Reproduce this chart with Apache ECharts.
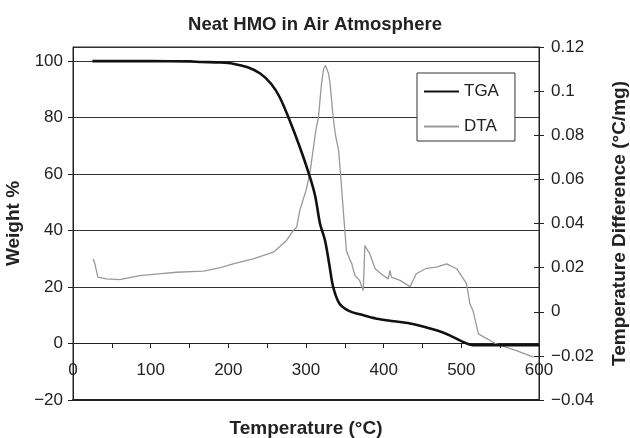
<!DOCTYPE html>
<html>
<head>
<meta charset="utf-8">
<script src="https://cdn.jsdelivr.net/npm/echarts@6/dist/echarts.min.js"></script>
<style>
html,body{margin:0;padding:0;background:#fff;}
#chart{width:630px;height:438px;}
</style>
</head>
<body>
<div id="chart"></div>
<script>
// ---- Data ----
const tgaTemp = [25, 50, 100, 150, 165, 190, 206, 225, 241, 255, 266, 279, 292, 305, 312, 318, 324.5, 330, 335, 343, 356, 374, 391, 410, 434, 455, 470, 485, 502, 515, 550, 600];
const tgaWeight = [100, 100, 100, 99.9, 99.7, 99.5, 99.1, 97.8, 95.6, 92, 87.3, 79, 69.6, 59, 52, 42.5, 36.5, 28, 20, 14.2, 11.5, 10, 8.8, 8.0, 7.1, 5.7, 4.5, 2.9, 0.6, -0.6, -0.6, -0.6];

const dtaTemp = [26, 28, 32, 43, 60, 86, 110, 133, 168, 190, 206, 232, 258, 275, 284, 288, 292, 300, 305, 309, 313, 316, 318, 320, 322.6, 325, 327, 329, 331, 335, 338, 342, 345, 348, 350, 352, 356, 359, 363, 369, 373.7, 375.8, 378, 382, 389, 399.5, 406, 408, 410, 421, 434, 442, 455, 468, 481, 494, 506.7, 511, 515, 522, 545, 571, 593];
const dtaValue = [0.024, 0.022, 0.0157, 0.0149, 0.0146, 0.0164, 0.0172, 0.0179, 0.0184, 0.020, 0.0217, 0.024, 0.027, 0.0323, 0.037, 0.0383, 0.0459, 0.055, 0.0627, 0.073, 0.083, 0.088, 0.0958, 0.1034, 0.110, 0.1117, 0.1124, 0.108, 0.1034, 0.088, 0.080, 0.073, 0.060, 0.0459, 0.0368, 0.0278, 0.024, 0.0217, 0.0164, 0.0142, 0.0096, 0.030, 0.0295, 0.0263, 0.0195, 0.0164, 0.0149, 0.0187, 0.0157, 0.0142, 0.0114, 0.0172, 0.0197, 0.0202, 0.0217, 0.0195, 0.0127, 0.0036, 0.0005, -0.010, -0.0146, -0.0176, -0.0206];

const titleText = 'Neat HMO in Air Atmosphere';
const xName = 'Temperature (°C)';
const yLeftName = 'Weight %';
const yRightName = 'Temperature Difference (°C/mg)';
const seriesNames = ['TGA', 'DTA'];

// ---- Chart ----
const FONT = "'Liberation Sans', Arial, Helvetica, sans-serif";
const TXT = '#222';
const fmtMinus = v => String(v).replace('-', '\u2212');
const zip = (a, b) => a.map((x, i) => [x, b[i]]);

const chart = echarts.init(document.getElementById('chart'), null, {renderer: 'canvas'});
chart.setOption({
  animation: false,
  backgroundColor: '#fff',
  textStyle: {fontFamily: FONT, color: TXT},
  title: {
    text: titleText, left: 'center', top: 10,
    textStyle: {fontFamily: FONT, fontSize: 18.5, fontWeight: 'bold', color: TXT}
  },
  grid: {
    left: 73, right: 91, top: 47, bottom: 38,
    show: true, borderColor: '#222', borderWidth: 1,
    containLabel: false, outerBoundsMode: 'none'
  },
  legend: {
    orient: 'vertical', left: 417, top: 73,
    padding: [10, 16, 6, 6], itemGap: 18, itemWidth: 35, itemHeight: 16,
    backgroundColor: '#fff', borderColor: '#333', borderWidth: 1, borderRadius: 0,
    itemStyle: {opacity: 0},
    textStyle: {fontFamily: FONT, fontSize: 17, color: TXT},
    data: seriesNames
  },
  xAxis: [
    {
      // axis drawn at Weight % = 0 (moved up from the bottom of the plot)
      type: 'value', min: 0, max: 600, interval: 50, position: 'bottom', offset: -57,
      axisLine: {onZero: false, lineStyle: {color: '#222', width: 1}},
      axisTick: {show: true, inside: false, length: 5, lineStyle: {color: '#222'}},
      axisLabel: {
        margin: 19, fontFamily: FONT, fontSize: 17, color: TXT,
        formatter: v => (v % 100 === 0 ? String(v) : '')
      },
      splitLine: {show: false}
    },
    {
      type: 'value', min: 0, max: 600, interval: 100, position: 'bottom',
      name: xName, nameLocation: 'middle', nameGap: 19,
      nameTextStyle: {fontFamily: FONT, fontSize: 19, fontWeight: 'bold', color: TXT},
      axisLine: {onZero: false, lineStyle: {color: '#222', width: 2}},
      axisTick: {show: false}, axisLabel: {show: false}, splitLine: {show: false}
    }
  ],
  yAxis: [
    {
      type: 'value', min: -20, max: 105, interval: 20, position: 'left',
      name: yLeftName, nameLocation: 'middle', nameGap: 49, nameRotate: 90,
      nameTextStyle: {fontFamily: FONT, fontSize: 19, fontWeight: 'bold', color: TXT},
      axisLine: {show: true, onZero: false, lineStyle: {color: '#222', width: 1}},
      axisTick: {show: true, length: 5, lineStyle: {color: '#222'}},
      axisLabel: {margin: 10, fontFamily: FONT, fontSize: 17, color: TXT, showMaxLabel: false, formatter: fmtMinus},
      splitLine: {show: true, lineStyle: {color: '#333', width: 1}}
    },
    {
      type: 'value', min: -0.04, max: 0.12, interval: 0.02, position: 'right',
      name: yRightName, nameLocation: 'middle', nameGap: 71, nameRotate: 90,
      nameTextStyle: {fontFamily: FONT, fontSize: 19, fontWeight: 'bold', color: TXT},
      axisLine: {show: true, onZero: false, lineStyle: {color: '#222', width: 1}},
      axisTick: {show: true, length: 5, lineStyle: {color: '#222'}},
      axisLabel: {margin: 12, fontFamily: FONT, fontSize: 17, color: TXT, formatter: fmtMinus},
      splitLine: {show: false}
    },
    {
      type: 'value', min: -0.04, max: 0.12, interval: 0.02, position: 'right',
      axisLine: {show: false, onZero: false},
      axisTick: {show: true, inside: true, length: 5, lineStyle: {color: '#222'}},
      axisLabel: {show: false}, splitLine: {show: false}
    }
  ],
  series: [
    {
      name: seriesNames[0], type: 'line', xAxisIndex: 0, yAxisIndex: 0,
      data: zip(tgaTemp, tgaWeight), symbol: 'none', smooth: 0.3, z: 3,
      lineStyle: {color: '#111', width: 2.6}, itemStyle: {color: '#111'}
    },
    {
      name: seriesNames[1], type: 'line', xAxisIndex: 0, yAxisIndex: 1,
      data: zip(dtaTemp, dtaValue), symbol: 'none', z: 2,
      lineStyle: {color: '#999', width: 1.3}, itemStyle: {color: '#999'}
    }
  ]
});
</script>
</body>
</html>
